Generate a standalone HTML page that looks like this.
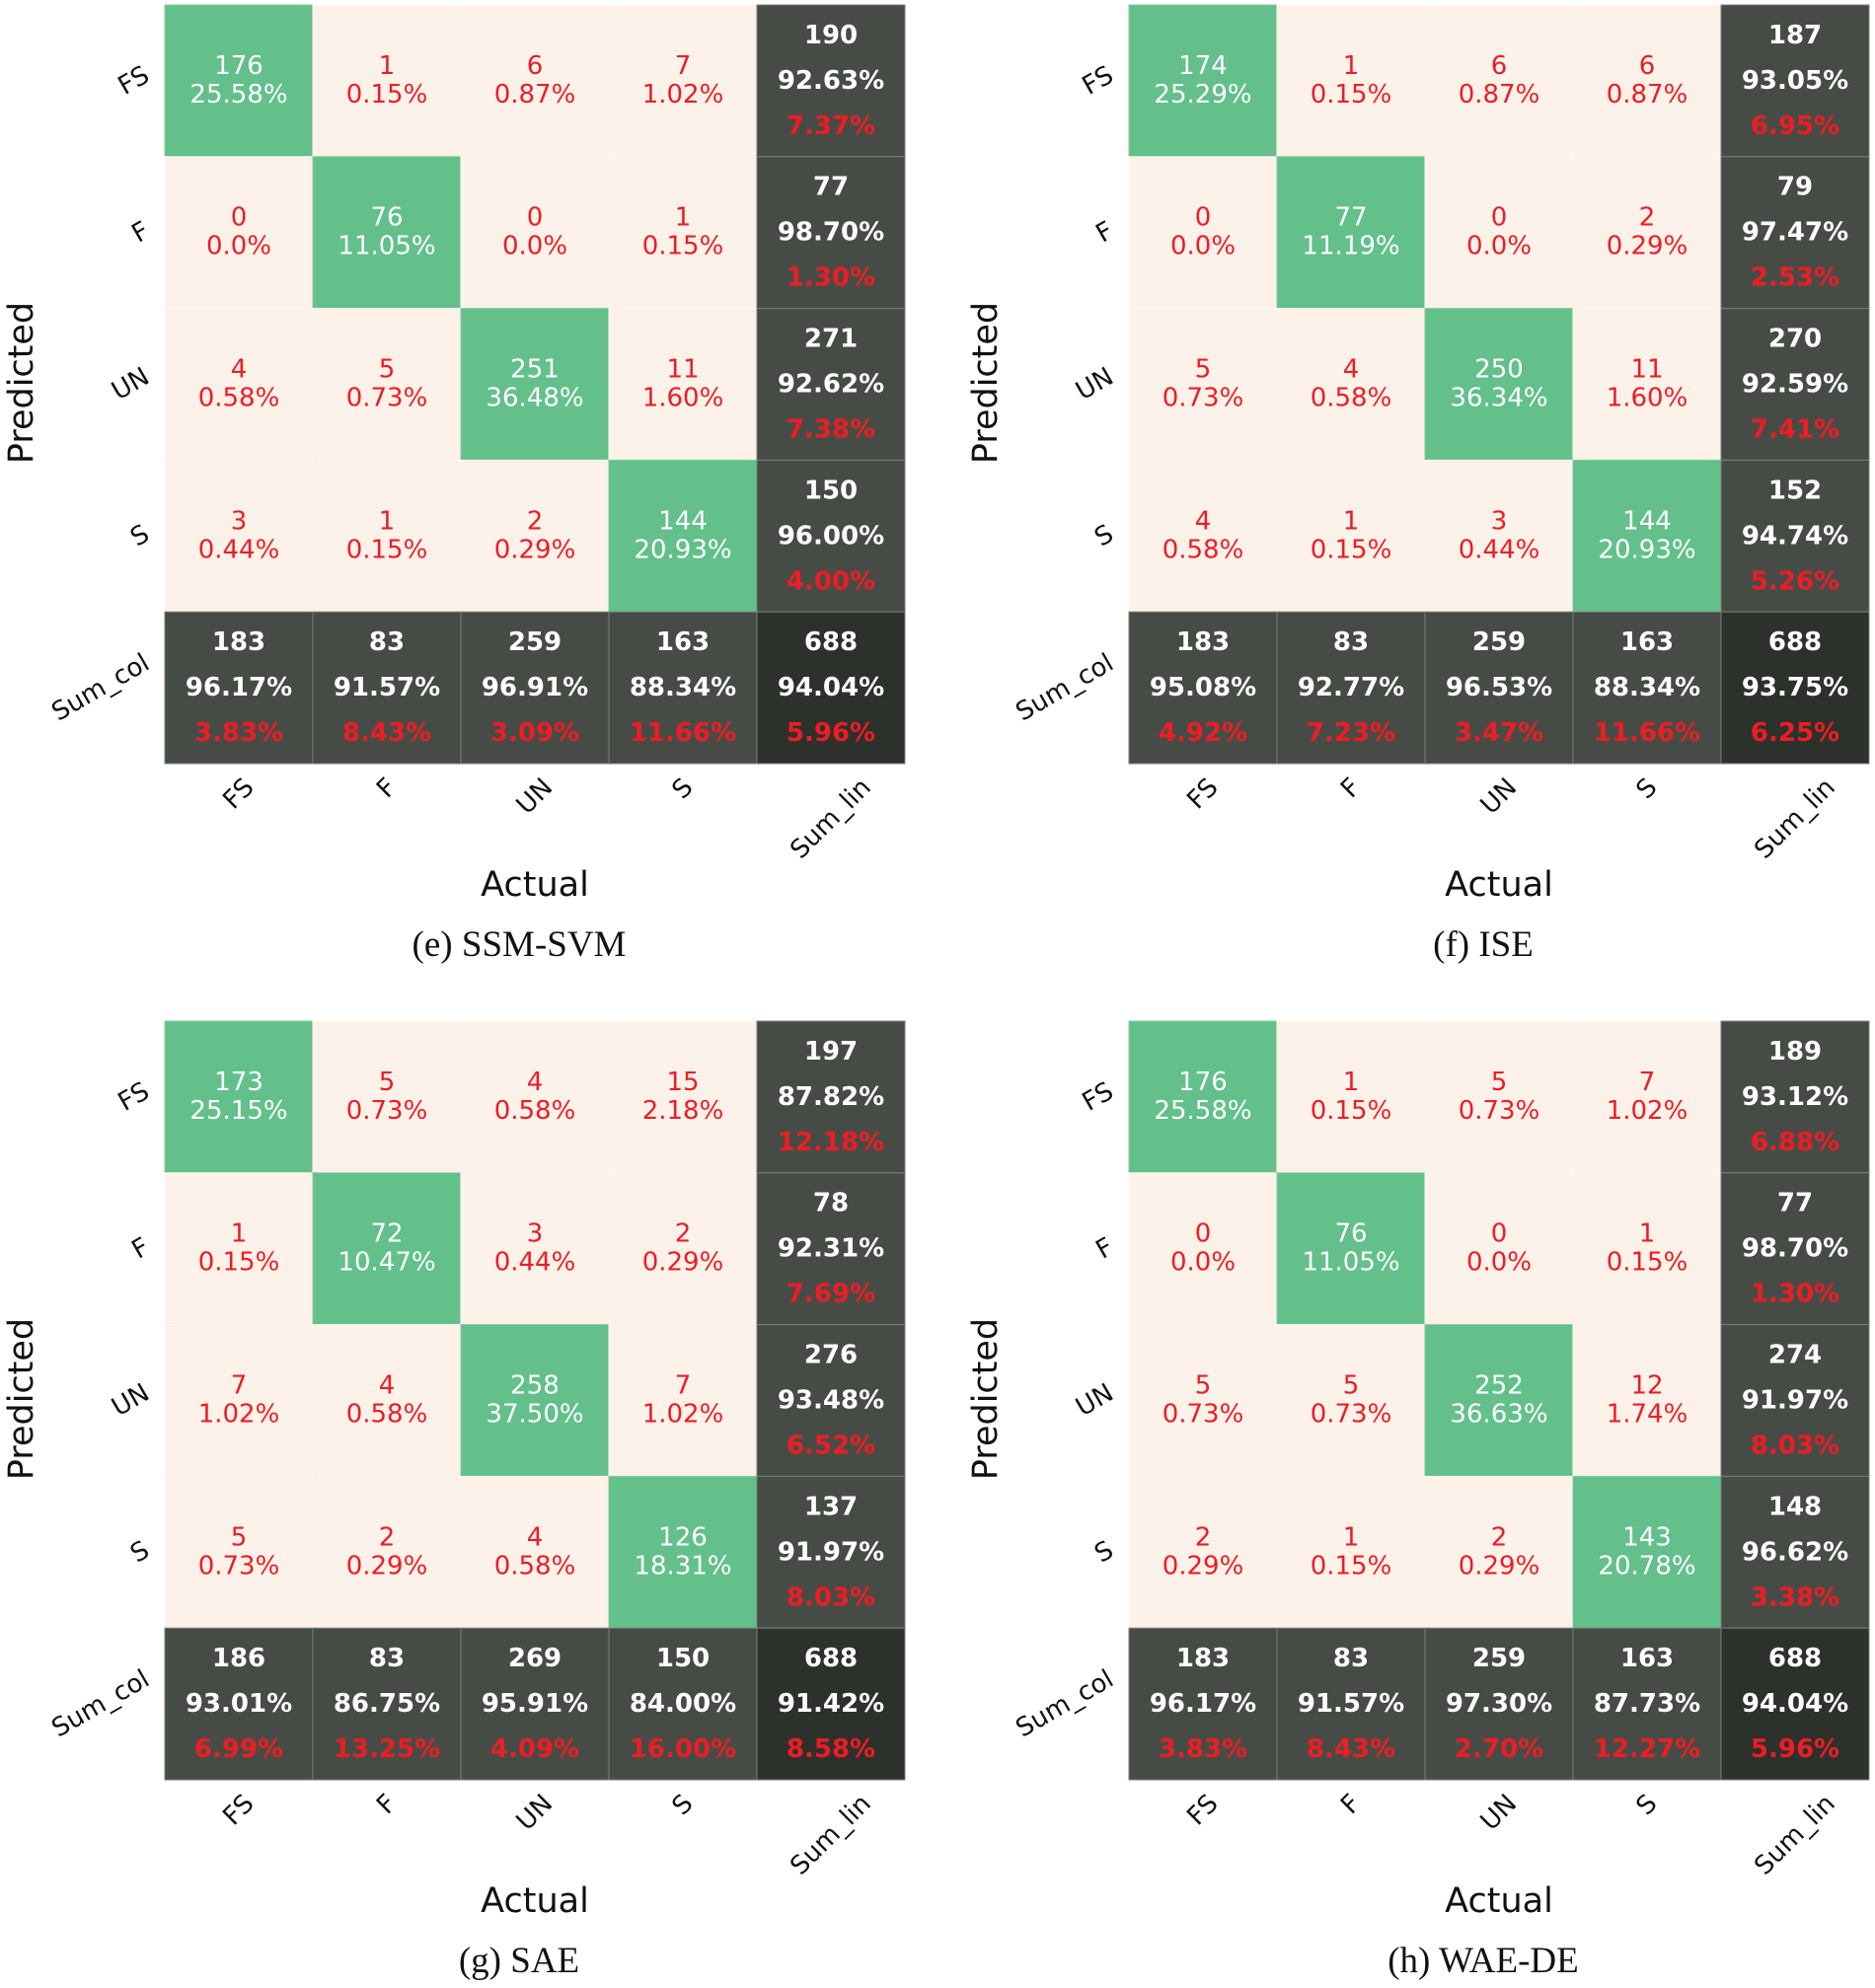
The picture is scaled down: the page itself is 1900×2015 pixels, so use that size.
<!DOCTYPE html>
<html><head><meta charset="utf-8">
<style>
html,body{margin:0;padding:0;background:#fff;}
svg{display:block;}
</style></head>
<body>
<svg id="fig" xmlns="http://www.w3.org/2000/svg" width="1900" height="2015" viewBox="0 0 1900 2015"></svg>
<script>
// ---- data ----
const labels = ["FS", "F", "UN", "S"];
const rowSumLabel = "Sum_col";
const colSumLabel = "Sum_lin";
const captions = ["(e) SSM-SVM", "(f) ISE", "(g) SAE", "(h) WAE-DE"];
const panelNames = ["ssm-svm", "ise", "sae", "wae-de"];
// rows = predicted, cols = actual
const countsE = [[176,1,6,7],[0,76,0,1],[4,5,251,11],[3,1,2,144]];
const countsF = [[174,1,6,6],[0,77,0,2],[5,4,250,11],[4,1,3,144]];
const countsG = [[173,5,4,15],[1,72,3,2],[7,4,258,7],[5,2,4,126]];
const countsH = [[176,1,5,7],[0,76,0,1],[5,5,252,12],[2,1,2,143]];
const allCounts = [countsE, countsF, countsG, countsH];

// ---- layout ----
const NS = "http://www.w3.org/2000/svg";
const svg = document.getElementById("fig");
const origins = [[167,5],[1144,5],[167,1035],[1144,1035]];
const CW = 150, CH = 153.8;
const C_GREEN = "#63c08b", C_CREAM = "#fdf2e9", C_DARK = "#464c45", C_DARKEST = "#2c312b", C_RED = "#ee1c25";
const FONT = "'DejaVu Sans', 'Liberation Sans', sans-serif";

function mk(tag, attrs, parent) {
  const e = document.createElementNS(NS, tag);
  for (const k in attrs) e.setAttribute(k, attrs[k]);
  (parent || svg).appendChild(e);
  return e;
}
function txt(str, attrs, parent) {
  const t = mk("text", attrs, parent);
  t.textContent = str;
  return t;
}
function pct(n, d) {
  if (n === 0) return "0.0%";
  return (n / d * 100).toFixed(2) + "%";
}

allCounts.forEach((m, p) => {
  const [ox, oy] = origins[p];
  const g = mk("g", {});
  
  
  const xPos = c => ox + c * CW;
  const yPos = r => oy + r * CH;
  const n = labels.length;
  let total = 0, diagTotal = 0;
  const rowSums = m.map(r => r.reduce((a, b) => a + b, 0));
  const colSums = labels.map((_, c) => m.reduce((a, r) => a + r[c], 0));
  m.forEach((r, i) => { total += rowSums[i]; diagTotal += r[i]; });

  for (let r = 0; r < n; r++) {
    for (let c = 0; c < n; c++) {
      const v = m[r][c];
      const diag = r === c;
      const rect = mk("rect", {x: xPos(c), y: yPos(r), width: CW, height: CH, fill: diag ? C_GREEN : C_CREAM, stroke: diag ? "#7fcc9f" : "#fff7f0", "stroke-width": 1}, g);
      
      
      const cx = xPos(c) + CW / 2, cy = yPos(r) + CH / 2;
      const col = diag ? "#ffffff" : C_RED;
      const t1 = txt(String(v), {x: cx, y: cy - 7, "text-anchor": "middle", "font-family": FONT, "font-size": 26, fill: col}, g);
      
      
      const t2 = txt(pct(v, total), {x: cx, y: cy + 22, "text-anchor": "middle", "font-family": FONT, "font-size": 26, fill: col}, g);
      
      
    }
  }
  function summary(x, y, count, good, fill, nm) {
    const rect = mk("rect", {x: x, y: y, width: CW, height: CH, fill: fill, stroke: "#7a7f79", "stroke-width": 1}, g);
    
    
    const cx = x + CW / 2, cy = y + CH / 2;
    const a = txt(String(count), {x: cx, y: cy - 38, "text-anchor": "middle", "font-family": FONT, "font-weight": "bold", "font-size": 26, fill: "#fff"}, g);
    
    
    const b = txt(pct(good, count), {x: cx, y: cy + 8, "text-anchor": "middle", "font-family": FONT, "font-weight": "bold", "font-size": 26, fill: "#fff"}, g);
    
    
    const c = txt(pct(count - good, count), {x: cx, y: cy + 54, "text-anchor": "middle", "font-family": FONT, "font-weight": "bold", "font-size": 26, fill: C_RED}, g);
    
    
  }
  for (let r = 0; r < n; r++) summary(xPos(n), yPos(r), rowSums[r], m[r][r], C_DARK, 'row-sum-' + labels[r]);
  for (let c = 0; c < n; c++) summary(xPos(c), yPos(n), colSums[c], m[c][c], C_DARK, 'col-sum-' + labels[c]);
  summary(xPos(n), yPos(n), total, diagTotal, C_DARKEST, 'total-sum');

  const yLabs = labels.concat([rowSumLabel]);
  yLabs.forEach((lab, r) => {
    const t = txt(lab, {"font-family": FONT, "font-size": 26, fill: "#111", "text-anchor": "middle", "dominant-baseline": "central"}, g);
    
    
    const w = t.getComputedTextLength(), h = 26;
    const a = 30 * Math.PI / 180;
    const bw = w * Math.cos(a) + h * 0.75 * Math.sin(a);
    const cx = ox - 13 - bw / 2, cy = yPos(r) + CH / 2;
    t.setAttribute("x", cx); t.setAttribute("y", cy);
    t.setAttribute("transform", `rotate(-30 ${cx} ${cy})`);
  });
  const xLabs = labels.concat([colSumLabel]);
  xLabs.forEach((lab, c) => {
    const t = txt(lab, {"font-family": FONT, "font-size": 26, fill: "#111", "text-anchor": "middle", "dominant-baseline": "central"}, g);
    
    
    const w = t.getComputedTextLength(), h = 22;
    const bh = (w + h) * Math.SQRT1_2;
    const cx = xPos(c) + CW / 2, cy = oy + 5 * CH + 12 + bh / 2;
    t.setAttribute("x", cx); t.setAttribute("y", cy);
    t.setAttribute("transform", `rotate(-45 ${cx} ${cy})`);
  });
  const yt = txt("Predicted", {x: ox - 145, y: oy + 383, "text-anchor": "middle", "dominant-baseline": "central", "font-family": FONT, "font-size": 35, fill: "#111", transform: `rotate(-90 ${ox - 145} ${oy + 383})`}, g);
  
  
  const xt = txt("Actual", {x: ox + 375, y: oy + 903, "text-anchor": "middle", "font-family": FONT, "font-size": 35, fill: "#111"}, g);
  
  
  const cap = txt(captions[p], {x: ox + 359, y: oy + 964, "text-anchor": "middle", "font-family": "'Liberation Serif', serif", "font-size": 37, fill: "#111"}, g);
  
  
});
</script>
</body></html>
